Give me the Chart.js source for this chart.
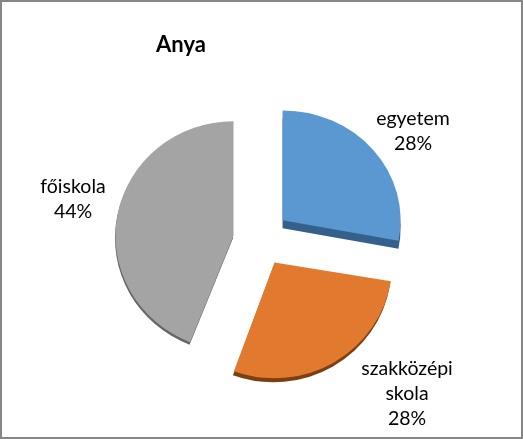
<!DOCTYPE html>
<html><head><meta charset="utf-8">
<style>
html,body{margin:0;padding:0;background:#fff;overflow:hidden}
#wrap{position:relative;width:523px;height:439px}
canvas{display:block}
#frame{position:absolute;left:0;top:0;width:523px;height:439px;box-sizing:border-box;border:2px solid #868686;pointer-events:none}
</style>
<script src="https://cdn.jsdelivr.net/npm/chart.js@4"></script>
</head><body>
<div id="wrap"><canvas id="c" width="523" height="439"></canvas><div id="frame"></div></div>
<script>
const categories = ['egyetem', 'szakközépi skola', 'főiskola'];
const percents = [28, 28, 44];
const titleText = 'Anya';
const labelLines = [['egyetem', '28%'], ['szakközépi', 'skola', '28%'], ['főiskola', '44%']];

const sliceColors = ['#5B97D0', '#E17A2E', '#A4A4A4'];
const depthColors = ['#36608C', '#7C3F10', '#666666'];
const depthShift = [[0, 8], [-1, 4], [-0.5, 2.5]];
const yScale = [0.93, 0.98, 0.97];
const turn = [0, -1.5, 0];
const nudge = [[1, -2], [1, -2], [1, 1]];
const labelAnchors = [[413, 119], [407, 369], [73, 187]];
const explode = 28;
const labelFont = '19.5px Lato, Carlito, sans-serif';
const lineGap = 25;

const explodedPie = {
  id: 'explodedPie',
  beforeDatasetDraw(chart, args) {
    const ctx = chart.ctx;
    const arcs = chart.getDatasetMeta(args.index).data;
    const paint = (arc, i, color, dx, dy) => {
      const mid = (arc.startAngle + arc.endAngle) / 2;
      const ax = arc.x + Math.cos(mid) * explode + dx + nudge[i][0];
      const ay = arc.y + Math.sin(mid) * explode + dy + nudge[i][1];
      ctx.save();
      ctx.translate(ax, ay);
      ctx.scale(1, yScale[i]);
      ctx.rotate(turn[i] * Math.PI / 180);
      ctx.translate(-arc.x, -arc.y);
      const saved = arc.options;
      arc.options = Object.assign({}, saved, {backgroundColor: color, borderColor: color, borderWidth: 0});
      arc.draw(ctx);
      arc.options = saved;
      ctx.restore();
    };
    arcs.forEach((arc, i) => paint(arc, i, depthColors[i], depthShift[i][0], depthShift[i][1]));
    arcs.forEach((arc, i) => paint(arc, i, sliceColors[i], 0, 0));
    return false;
  },
  afterDatasetsDraw(chart) {
    const ctx = chart.ctx;
    ctx.save();
    ctx.fillStyle = '#000';
    ctx.textAlign = 'center';
    ctx.textBaseline = 'middle';
    ctx.font = labelFont;
    labelLines.forEach((lines, i) => {
      lines.forEach((t, j) => ctx.fillText(t, labelAnchors[i][0], labelAnchors[i][1] + j * lineGap));
    });
    ctx.font = 'bold 22px Lato, Carlito, sans-serif';
    ctx.fillText(titleText, 181, 45);
    ctx.restore();
  }
};

new Chart(document.getElementById('c'), {
  type: 'pie',
  data: {
    labels: categories,
    datasets: [{data: percents, backgroundColor: sliceColors, borderWidth: 0, radius: 118}]
  },
  options: {
    responsive: false,
    animation: false,
    events: [],
    layout: {padding: {left: 0, right: 3, top: 41, bottom: 0}},
    plugins: {legend: {display: false}, tooltip: {enabled: false}, title: {display: false}}
  },
  plugins: [explodedPie]
});
</script>
</body></html>
